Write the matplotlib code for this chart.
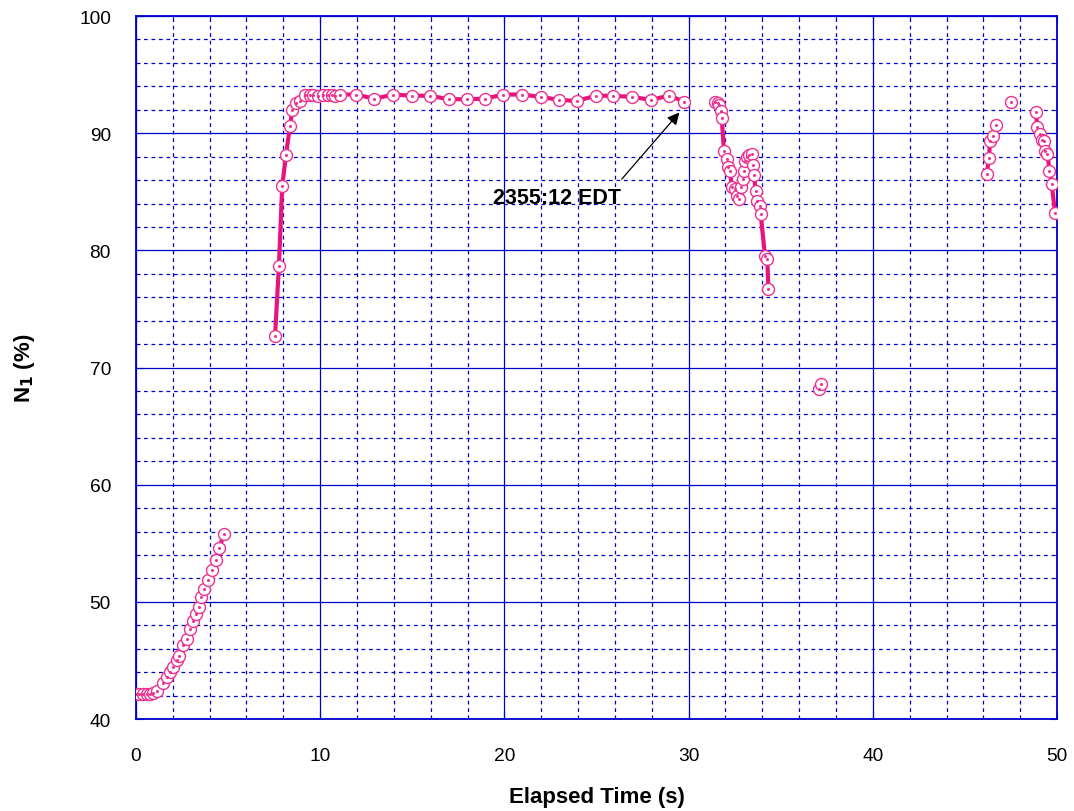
import matplotlib
matplotlib.use("Agg")
import matplotlib.pyplot as plt
import numpy as np

plt.rcParams['font.family'] = ['Liberation Sans', 'DejaVu Sans']

# engine spool-up, 0 - 5 s
t_start = [0.0, 0.18, 0.4, 0.58, 0.76, 0.94, 1.16, 1.45, 1.67, 1.85, 1.99, 2.21, 2.35,
           2.57, 2.75, 2.93, 3.11, 3.26, 3.40, 3.51, 3.69, 3.89, 4.11, 4.34, 4.52, 4.78]
n1_start = [42.1, 42.1, 42.1, 42.1, 42.15, 42.2, 42.4, 43.1, 43.6, 44.0, 44.4, 45.0, 45.4,
            46.3, 46.8, 47.7, 48.4, 49.0, 49.6, 50.4, 51.1, 51.9, 52.7, 53.6, 54.6, 55.8]

# takeoff power, 7.5 - 30 s
t_climb = [7.55, 7.76, 7.94, 8.14, 8.36, 8.49, 8.69, 8.90, 9.17, 9.45, 9.63, 9.9, 10.17,
           10.44, 10.62, 10.8, 11.07, 11.94, 12.94, 13.97, 14.97, 15.97, 16.97, 17.97,
           18.95, 19.94, 20.97, 21.97, 22.96, 23.92, 24.96, 25.91, 26.93, 27.94, 28.95, 29.77]
n1_climb = [72.7, 78.7, 85.5, 88.1, 90.6, 92.0, 92.6, 92.75, 93.3, 93.3, 93.3, 93.2, 93.3,
            93.3, 93.3, 93.2, 93.3, 93.3, 92.95, 93.3, 93.2, 93.2, 92.9, 92.9,
            92.95, 93.3, 93.3, 93.1, 92.85, 92.75, 93.2, 93.2, 93.1, 92.85, 93.2, 92.7]

# 31 - 35 s
t_drop = [31.43, 31.61, 31.67, 31.74, 31.8, 31.92, 32.07, 32.16, 32.25, 32.34, 32.52, 32.61,
          32.75, 32.84, 32.97, 33.0, 33.06, 33.19, 33.3, 33.42, 33.48, 33.55, 33.64, 33.73,
          33.85, 33.91, 34.15, 34.27, 34.33]
n1_drop = [92.7, 92.6, 92.4, 91.9, 91.3, 88.5, 87.8, 87.1, 86.8, 85.4, 85.2, 84.6,
           84.4, 85.4, 86.1, 86.8, 87.6, 88.0, 88.1, 88.2, 87.3, 86.4, 85.1, 84.2,
           83.8, 83.1, 79.5, 79.3, 76.7]

t_mid = [37.08, 37.17]
n1_mid = [68.2, 68.6]

t_late1 = [46.18, 46.31, 46.36, 46.5, 46.67]
n1_late1 = [86.5, 87.9, 89.3, 89.8, 90.7]

t_late2 = [47.5]
n1_late2 = [92.7]

t_late3 = [48.86, 48.93, 49.08, 49.17, 49.29, 49.35, 49.48, 49.59, 49.71, 49.89]
n1_late3 = [91.85, 90.5, 89.9, 89.4, 89.3, 88.5, 88.2, 86.8, 85.7, 83.2]

segments = [(t_start, n1_start), (t_climb, n1_climb), (t_drop, n1_drop),
            (t_mid, n1_mid), (t_late1, n1_late1), (t_late2, n1_late2), (t_late3, n1_late3)]

line_col = '#E8147C'
mark_col = '#F0308F'
grid_col = '#0000CC'

fig = plt.figure(figsize=(10.74, 8.12), dpi=100)
ax = fig.add_axes([0.1266, 0.1133, 0.8576, 0.8657])

for t, n in segments:
    ax.plot(t, n, color=line_col, lw=3.0, zorder=3)
for t, n in segments:
    ax.plot(t, n, ls='none', marker='o', ms=8.6, mfc='white', mec=mark_col, mew=1.0, zorder=4)
    ax.plot(t, n, ls='none', marker='o', ms=1.2, mfc=mark_col, mec=mark_col, zorder=5)

ax.set_xlim(0, 50)
ax.set_ylim(40, 100)
ax.set_xticks(np.arange(0, 51, 10))
ax.set_yticks(np.arange(40, 101, 10))
ax.set_xticks(np.arange(0, 51, 2), minor=True)
ax.set_yticks(np.arange(40, 101, 2), minor=True)
ax.grid(True, which='major', color=grid_col, lw=0.9, ls='-')
ax.grid(True, which='minor', color=grid_col, lw=0.9, ls=(0, (3, 3)))
ax.set_axisbelow(True)
for s in ax.spines.values():
    s.set_color(grid_col)
    s.set_linewidth(1.3)
ax.tick_params(which='both', direction='in', color=grid_col, top=True, right=True,
               labelsize=13.8)
ax.tick_params(which='major', length=5)
ax.tick_params(which='minor', length=3)
ax.tick_params(axis='x', which='major', pad=20)
ax.tick_params(axis='y', which='major', pad=18)

ax.set_xlabel('Elapsed Time (s)', fontsize=16, fontweight='bold', labelpad=16)
ax.set_ylabel('N$_\\mathbf{1}$ (%)', fontsize=16, fontweight='bold', labelpad=30)

ax.text(22.88, 84.54, '2355:12 EDT', ha='center', va='center',
        fontsize=15.5, fontweight='bold')
ax.annotate('', xy=(29.5, 91.77), xytext=(26.37, 86.08),
            arrowprops=dict(arrowstyle='-|>', color='black', lw=0.9,
                            mutation_scale=18, shrinkA=0, shrinkB=0))

fig.savefig('out.png', dpi=100)
